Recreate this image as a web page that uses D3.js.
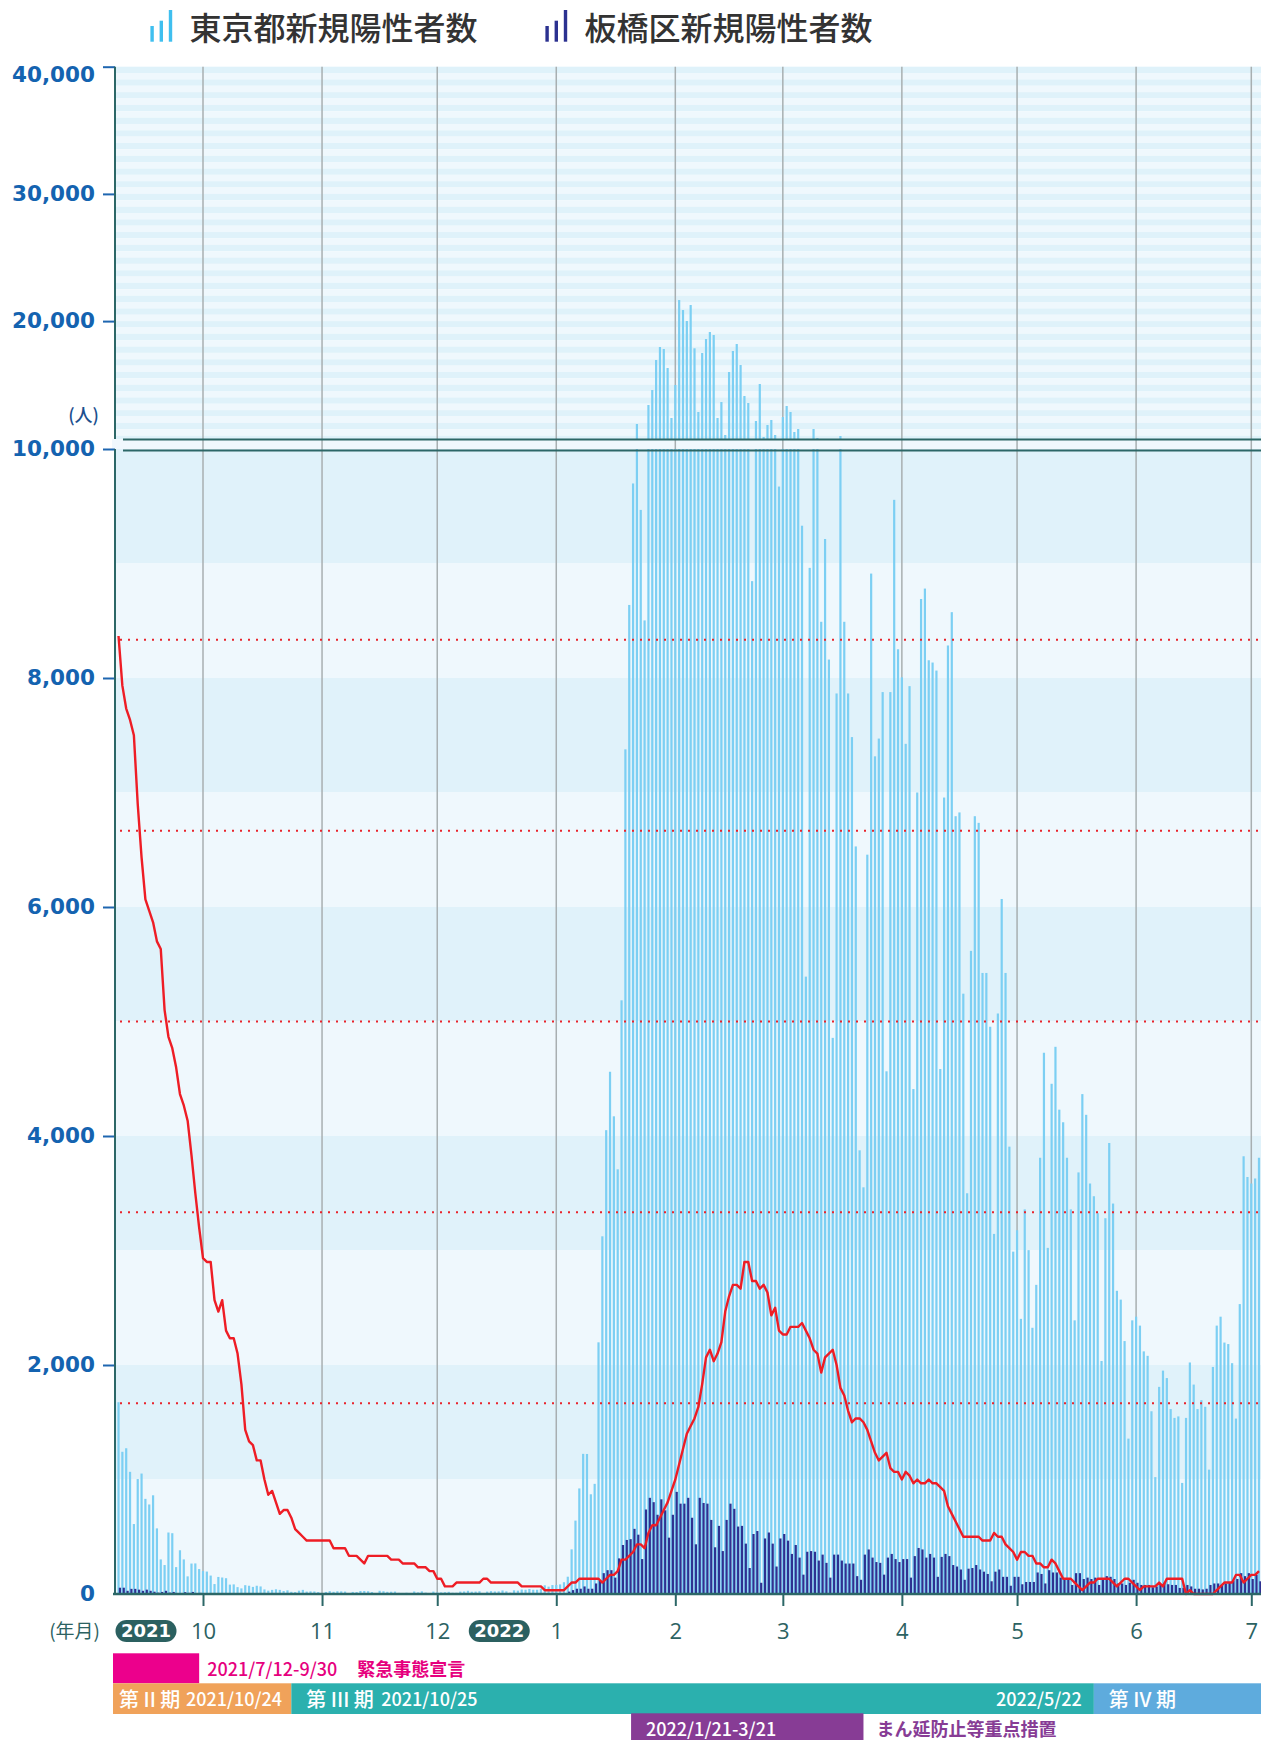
<!DOCTYPE html>
<html lang="ja">
<head>
<meta charset="utf-8">
<script src="https://cdn.jsdelivr.net/npm/d3@7"></script>
<style>
  body { margin: 0; background: #fff; }
  svg { display: block; }
</style>
</head>
<body>
<div class="chart"></div>
<script>
// daily values, first day 2021-09-09
let startDay = "2021-09-09"

// 東京都新規陽性者数
let tokyoCases = [
  1675, 1242, 1273, 1067, 611, 1004, 1052, 831, 782, 862, 573, 302, 253, 537, 531, 235, 382, 302, 154, 266, 267, 218,
  200, 196, 161, 87, 149, 144, 138, 82, 84, 60, 49, 77, 72, 62, 72, 66, 40, 29, 36, 41, 36, 26, 32, 19, 17, 29, 36, 21, 23, 22, 17,
  9, 18, 25, 19, 24, 23, 21, 6, 18, 17, 26, 26, 24, 17, 8, 28, 24, 19, 20, 21, 10, 9, 11, 8, 22, 14, 23, 12, 7, 21,
  14, 14, 16, 19, 11, 11, 21, 22, 28, 20, 21, 24, 7, 21, 25, 22, 23, 31, 23, 12, 32, 29, 39, 37, 44, 37, 37, 46, 76, 64, 78,
  79, 84, 103, 151, 390, 641, 922, 1224, 1223, 871, 962, 2198, 3124, 4051, 4561, 4172, 3709, 5185, 7377, 8638, 9699, 11910, 9468, 8503, 13403, 14582, 16940, 17962, 17805, 16312, 12382,
  14975, 21656, 20870, 20006, 21264, 17861, 12854, 17491, 18591, 19141, 18906, 12382, 13639, 11045, 15997, 17648, 18198, 16547, 14111, 13561, 8846, 12146, 15054, 10888, 11831, 12225, 11045, 9672,
  12460, 13325, 12854, 11281, 11517, 9330, 5392, 8962, 11517, 10810, 8491, 9214, 8161, 4857, 7865, 10967, 8491, 7865, 7484, 6529, 3875, 3552, 6457, 8912, 7316, 7471, 7877, 4565, 7877, 9556, 8251,
  8006, 7425, 7929, 4410, 7000, 8690, 8781, 8155, 8135, 8065, 4585, 6956, 8284, 8575, 6793, 6826, 5243, 3500, 5617, 6793, 6735, 5424, 5424, 4954, 3145, 5070, 6070, 5424, 3907, 2990,
  3177, 2403, 3359, 3003, 2325, 2700, 3810, 4727, 3023, 4456, 4779, 4230, 4120, 3810, 3359, 2390, 3682, 4366, 4185, 3585, 3474, 3326, 2035, 3282, 3939, 3410, 2648, 2571, 2209, 1357, 2390,
  2422, 2344, 2119, 2080, 1596, 1021, 1809, 1951, 1886, 1615, 1538, 1551, 970, 1538, 2022, 1829, 1615, 1693, 1635, 1086, 1983, 2344, 2422, 2196, 2183, 2016, 1532, 2532, 3823, 3642,
  3585, 3629, 3810
]

// 板橋区新規陽性者数
let itabashiCases = [
  55, 55, 28, 45, 45, 38, 28, 38, 28, 20, 12, 18, 28, 12, 18, 8, 8, 16, 10, 18, 8, 10,
  8, 7, 6, 3, 5, 5, 5, 3, 3, 2, 2, 3, 3, 2, 3, 2, 1, 1, 1, 2, 1, 1, 1, 0, 1, 1, 1, 1, 1, 1, 0,
  0, 1, 1, 1, 1, 1, 1, 0, 1, 1, 1, 1, 1, 1, 0, 1, 1, 1, 1, 1, 0, 0, 0, 0, 1, 0, 1, 0, 0, 1,
  0, 1, 1, 1, 0, 0, 1, 1, 1, 1, 1, 1, 0, 1, 1, 1, 1, 1, 1, 0, 1, 1, 2, 1, 2, 1, 1, 2, 3, 3, 3,
  3, 4, 6, 21, 34, 46, 46, 66, 46, 46, 92, 118, 182, 208, 208, 143, 311, 428, 472, 479, 569, 518, 305, 738, 840, 802, 692, 827, 731, 492, 692,
  892, 789, 789, 840, 666, 434, 840, 795, 789, 647, 408, 595, 375, 647, 789, 744, 589, 595, 440, 227, 524, 550, 98, 485, 537, 440, 240, 485,
  524, 466, 350, 428, 318, 169, 369, 375, 369, 292, 344, 272, 143, 344, 344, 292, 266, 266, 266, 156, 124, 344, 389, 318, 279, 272, 169, 318, 350, 305, 279,
  305, 305, 143, 331, 402, 389, 318, 350, 318, 150, 324, 350, 331, 253, 240, 214, 124, 221, 227, 253, 214, 195, 175, 111, 195, 214, 150, 150, 72, 150,
  150, 85, 105, 105, 105, 188, 175, 92, 208, 188, 188, 143, 124, 124, 79, 182, 182, 131, 143, 131, 143, 79, 131, 156, 150, 131, 92, 92, 79, 98, 124,
  98, 79, 79, 79, 59, 66, 79, 98, 85, 79, 79, 53, 53, 79, 66, 46, 46, 40, 46, 79, 92, 92, 79, 92, 98, 118, 131, 182, 156, 182,
  131, 169, 111
]

// red line (%), secondary scale 0-60
let severeRate = [
  50.2, 47.6, 46.4, 45.8, 45.0, 41.4, 38.6, 36.4, 35.8, 35.2, 34.2, 33.8, 30.6, 29.2, 28.6, 27.6, 26.2, 25.6, 24.8, 23.0,
  21.0, 19.2, 17.6, 17.4, 17.4, 15.4, 14.8, 15.4, 13.8, 13.4, 13.4, 12.6, 11.0, 8.6, 8.0, 7.8, 7.0, 7.0, 6.0, 5.2,
  5.4, 4.8, 4.2, 4.4, 4.4, 4.0, 3.4, 3.2, 3.0, 2.8, 2.8, 2.8, 2.8, 2.8, 2.8, 2.8, 2.4, 2.4, 2.4, 2.4,
  2.0, 2.0, 2.0, 1.8, 1.6, 2.0, 2.0, 2.0, 2.0, 2.0, 2.0, 1.8, 1.8, 1.8, 1.6, 1.6, 1.6, 1.6, 1.4, 1.4,
  1.4, 1.2, 1.2, 0.8, 0.8, 0.4, 0.4, 0.4, 0.6, 0.6, 0.6, 0.6, 0.6, 0.6, 0.6, 0.8, 0.8, 0.6, 0.6, 0.6,
  0.6, 0.6, 0.6, 0.6, 0.6, 0.4, 0.4, 0.4, 0.4, 0.4, 0.4, 0.2, 0.2, 0.2, 0.2, 0.2, 0.2, 0.4, 0.6, 0.6,
  0.8, 0.8, 0.8, 0.8, 0.8, 0.8, 0.6, 0.8, 1.0, 1.0, 1.2, 1.8, 1.8, 2.0, 2.2, 2.6, 2.6, 2.4, 3.2, 3.6,
  3.6, 4.0, 4.4, 4.8, 5.4, 6.0, 6.8, 7.6, 8.4, 8.8, 9.2, 9.8, 11.0, 12.4, 12.8, 12.2, 12.6, 13.2, 14.8, 15.6,
  16.2, 16.2, 16.0, 17.4, 17.4, 16.4, 16.4, 16.0, 16.2, 15.8, 14.6, 15.0, 13.8, 13.6, 13.6, 14.0, 14.0, 14.0, 14.2, 13.8,
  13.4, 12.8, 12.6, 11.6, 12.4, 12.6, 12.8, 12.0, 10.8, 10.4, 9.6, 9.0, 9.2, 9.2, 9.0, 8.6, 8.0, 7.4, 7.0, 7.2,
  7.4, 6.6, 6.4, 6.4, 6.0, 6.4, 6.2, 5.8, 6.0, 5.8, 5.8, 6.0, 5.8, 5.8, 5.6, 5.4, 4.6, 4.2, 3.8, 3.4,
  3.0, 3.0, 3.0, 3.0, 3.0, 2.8, 2.8, 2.8, 3.2, 3.0, 3.0, 2.6, 2.4, 2.2, 1.8, 2.2, 2.2, 2.0, 2.0, 1.6,
  1.6, 1.4, 1.4, 1.8, 1.6, 1.2, 0.8, 0.8, 0.8, 0.6, 0.4, 0.2, 0.4, 0.6, 0.6, 0.8, 0.8, 0.8, 0.8, 0.6,
  0.4, 0.6, 0.8, 0.8, 0.6, 0.4, 0.2, 0.4, 0.4, 0.4, 0.4, 0.6, 0.4, 0.8, 0.8, 0.8, 0.8, 0.8, 0.0, 0.2,
  0.0, 0.0, 0.0, 0.0, 0.0, 0.0, 0.2, 0.4, 0.6, 0.6, 0.6, 1.0, 1.0, 0.6, 0.8, 1.0, 1.0, 1.2
]

let upperTicks = [20000, 30000, 40000]
let lowerTicks = [0, 2000, 4000, 6000, 8000, 10000]
let rateLines = [10, 20, 30, 40, 50]
let monthTicks = ["2021-10-01", "2021-11-01", "2021-12-01", "2022-01-01", "2022-02-01",
                  "2022-03-01", "2022-04-01", "2022-05-01", "2022-06-01", "2022-07-01"]
let yearTags = [{label: "2021", month: "2021-10-01"}, {label: "2022", month: "2022-01-01"}]

let W = 1261, H = 1740
let plotLeft = 115, plotRight = 1261
let upperBottom = 439
let base = 1594
let teal = "#2c6767"
let blueText = "#1463b0"

let parse = d3.utcParse("%Y-%m-%d")
let days = tokyoCases.map((d, i) => d3.utcDay.offset(parse(startDay), i))

let svg = d3.select(".chart")
    .append("svg")
    .attr("width", W)
    .attr("height", H)

// Scales
let x = d3.scaleUtc()
    .domain([parse("2021-10-01"), parse("2022-07-01")])
    .range([203, 1251.3])
let yLower = d3.scaleLinear().domain([0, 10000]).range([base, 449])
let yUpper = d3.scaleLinear().domain([10000, 40000]).range([448.3, 66.7])
let yRate = d3.scaleLinear().domain([0, 60]).range([base, 449])

// Backgrounds
let bg = svg.append("g")
bg.selectAll(".stripe")
    .data(d3.range(60))
    .join("rect")
    .attr("x", plotLeft)
    .attr("width", plotRight - plotLeft)
    .attr("y", k => yUpper(40000 - 500 * k))
    .attr("height", k => Math.max(0, Math.min(upperBottom, yUpper(40000 - 500 * (k + 1))) - yUpper(40000 - 500 * k)))
    .attr("fill", k => k % 2 ? "#eff8fd" : "#dff2fa")

bg.append("rect")
    .attr("x", plotLeft - 3)
    .attr("y", upperBottom)
    .attr("width", plotRight - plotLeft + 3)
    .attr("height", yLower(10000) - upperBottom)
    .attr("fill", "#f0f8fd")

bg.selectAll(".band")
    .data(d3.range(10))
    .join("rect")
    .attr("x", plotLeft)
    .attr("width", plotRight - plotLeft)
    .attr("y", k => yLower(10000 - 1000 * k))
    .attr("height", k => yLower(10000 - 1000 * (k + 1)) - yLower(10000 - 1000 * k))
    .attr("fill", k => k % 2 ? "#eff8fd" : "#e0f2fa")

// Month grid
svg.append("g")
    .selectAll("line")
    .data(monthTicks.map(parse))
    .join("line")
    .attr("x1", d => x(d))
    .attr("x2", d => x(d))
    .attr("y1", yUpper(40000))
    .attr("y2", base)
    .attr("stroke", "#a8afb1")
    .attr("stroke-width", 1.5)

// Bars
svg.append("clipPath")
    .attr("id", "plot-clip")
    .append("rect")
    .attr("x", plotLeft + 1)
    .attr("y", 0)
    .attr("width", plotRight - plotLeft)
    .attr("height", base)

let bars = svg.append("g").attr("clip-path", "url(#plot-clip)")

bars.selectAll(".tokyo-low")
    .data(tokyoCases)
    .join("rect")
    .attr("x", (d, i) => x(days[i]) - 1.1)
    .attr("width", 2.2)
    .attr("y", d => yLower(Math.min(d, 10000)))
    .attr("height", d => base - yLower(Math.min(d, 10000)))
    .attr("fill", "#7ccff3")

bars.selectAll(".tokyo-high")
    .data(tokyoCases.map((d, i) => ({v: d, day: days[i]})).filter(d => yUpper(d.v) < upperBottom))
    .join("rect")
    .attr("x", d => x(d.day) - 1.1)
    .attr("width", 2.2)
    .attr("y", d => yUpper(d.v))
    .attr("height", d => upperBottom - yUpper(d.v))
    .attr("fill", "#7ccff3")

bars.selectAll(".itabashi")
    .data(itabashiCases)
    .join("rect")
    .attr("x", (d, i) => x(days[i]) + 0.3)
    .attr("width", 2.2)
    .attr("y", d => yLower(d))
    .attr("height", d => base - yLower(d))
    .attr("fill", "#2e3191")

// Dotted reference lines
svg.append("g")
    .selectAll("line")
    .data(rateLines)
    .join("line")
    .attr("x1", plotLeft + 5)
    .attr("x2", plotRight)
    .attr("y1", d => yRate(d))
    .attr("y2", d => yRate(d))
    .attr("stroke", "#e8242c")
    .attr("stroke-width", 2)
    .attr("stroke-dasharray", "2 6")

// Red line
let line = d3.line()
    .x((d, i) => x(days[i]))
    .y(d => yRate(d))

svg.append("path")
    .datum(severeRate)
    .attr("d", line)
    .attr("fill", "none")
    .attr("stroke", "#ee1d25")
    .attr("stroke-width", 2.4)
    .attr("stroke-linejoin", "round")

// Axis break lines
svg.append("g")
    .selectAll("line")
    .data([upperBottom + 0.5, yLower(10000) + 1.5])
    .join("line")
    .attr("x1", 123)
    .attr("x2", plotRight)
    .attr("y1", d => d)
    .attr("y2", d => d)
    .attr("stroke", teal)
    .attr("stroke-width", 2)

// Left axis
let axisUpper = d3.axisLeft(yUpper)
    .tickValues(upperTicks)
    .tickFormat(d3.format(","))
    .tickSize(12)
    .tickPadding(8)
let axisLower = d3.axisLeft(yLower)
    .tickValues(lowerTicks)
    .tickFormat(d3.format(","))
    .tickSize(12)
    .tickPadding(8)

function styleAxis(g) {
    g.select(".domain").remove()
    g.selectAll(".tick line").attr("stroke", "#1f66b0").attr("stroke-width", 2)
    g.selectAll(".tick text")
        .attr("fill", blueText)
        .attr("font-family", "DejaVu Sans")
        .attr("font-weight", "bold")
        .attr("font-size", 21.5)
}

svg.append("g")
    .attr("transform", `translate(${plotLeft}, 0)`)
    .call(axisUpper)
    .call(styleAxis)
    .call(g => g.selectAll(".tick text").filter(d => d === 40000).attr("dy", "0.7em"))

svg.append("g")
    .attr("transform", `translate(${plotLeft}, 0)`)
    .call(axisLower)
    .call(styleAxis)
    .call(g => g.selectAll(".tick line").filter(d => d === 0).remove())

svg.append("line")
    .attr("x1", plotLeft).attr("x2", plotLeft)
    .attr("y1", yUpper(40000)).attr("y2", upperBottom)
    .attr("stroke", teal).attr("stroke-width", 2)
svg.append("line")
    .attr("x1", plotLeft).attr("x2", plotLeft)
    .attr("y1", yLower(10000)).attr("y2", base)
    .attr("stroke", teal).attr("stroke-width", 2)

svg.append("text")
    .attr("x", 99)
    .attr("y", 422)
    .attr("text-anchor", "end")
    .attr("font-family", "Noto Sans CJK JP")
    .attr("font-weight", 500)
    .attr("font-size", 18)
    .attr("fill", "#1b4f8e")
    .text("(人)")

// Bottom axis
let axisX = d3.axisBottom(x)
    .tickValues(monthTicks.map(parse))
    .tickSize(12)
    .tickFormat(d => d.getUTCMonth() + 1)

svg.append("g")
    .attr("transform", `translate(0, ${base})`)
    .call(axisX)
    .call(g => g.select(".domain").remove())
    .call(g => g.selectAll(".tick line").attr("stroke", teal).attr("stroke-width", 2))
    .call(g => g.selectAll(".tick text")
        .attr("y", 37)
        .attr("dy", "0.36em")
        .attr("fill", "#2c6262")
        .attr("font-family", "Open Sans")
        .attr("font-weight", 500)
        .attr("font-size", 22))

svg.append("line")
    .attr("x1", plotLeft - 2).attr("x2", plotRight)
    .attr("y1", base).attr("y2", base)
    .attr("stroke", teal).attr("stroke-width", 2.5)

svg.append("text")
    .attr("x", 100)
    .attr("y", 1631)
    .attr("dy", "0.35em")
    .attr("text-anchor", "end")
    .attr("font-family", "Noto Sans CJK JP")
    .attr("font-size", 19)
    .attr("fill", "#2c6262")
    .text("(年月)")

let tags = svg.append("g")
    .selectAll("g")
    .data(yearTags)
    .join("g")
    .attr("transform", d => `translate(${x(parse(d.month)) - 57}, 1631)`)
tags.append("rect")
    .attr("x", -30.5).attr("y", -11)
    .attr("width", 61).attr("height", 22)
    .attr("rx", 11)
    .attr("fill", "#2b6060")
tags.append("text")
    .attr("text-anchor", "middle")
    .attr("dy", "0.36em")
    .attr("fill", "#fff")
    .attr("font-family", "DejaVu Sans")
    .attr("font-weight", "bold")
    .attr("font-size", 18)
    .text(d => d.label)

// Period bars
let periods = [
    {row: 0, from: null, to: "2021-09-30", color: "#ec008c"},
    {row: 1, from: null, to: "2021-10-24", color: "#f0a25a"},
    {row: 1, from: "2021-10-24", to: "2022-05-21", color: "#2bb0ae"},
    {row: 1, from: "2022-05-21", to: null, color: "#5eabdd"},
    {row: 2, from: "2022-01-21", to: "2022-03-22", color: "#873c95", shift: -2}
]
let rowTop = [1653.3, 1683.3, 1713.3]
let rowHeight = [30, 30.7, 30]
let edge = (d, fallback) => d ? x(parse(d)) : fallback

svg.append("g")
    .selectAll("rect")
    .data(periods)
    .join("rect")
    .attr("x", d => edge(d.from, plotLeft - 2) + (d.shift || 0))
    .attr("width", d => edge(d.to, W) - edge(d.from, plotLeft - 2) - (d.shift || 0))
    .attr("y", d => rowTop[d.row])
    .attr("height", d => rowHeight[d.row])
    .attr("fill", d => d.color)

let labels = [
    {x: x(parse("2021-09-30")) + 8, row: 0, text: "2021/7/12-9/30", color: "#e6007e"},
    {x: x(parse("2021-09-30")) + 158, row: 0, text: "緊急事態宣言", color: "#e6007e", bold: true},
    {x: plotLeft + 4, row: 1, text: "第 II 期", color: "#fff", size: 20},
    {x: plotLeft + 71, row: 1, text: "2021/10/24", color: "#fff"},
    {x: x(parse("2021-10-24")) + 15, row: 1, text: "第 III 期", color: "#fff", size: 20},
    {x: x(parse("2021-10-24")) + 90, row: 1, text: "2021/10/25", color: "#fff"},
    {x: x(parse("2022-05-21")) - 12, row: 1, text: "2022/5/22", color: "#fff", anchor: "end"},
    {x: x(parse("2022-05-21")) + 15, row: 1, text: "第 IV 期", color: "#fff", size: 20},
    {x: x(parse("2022-01-21")) + 13, row: 2, text: "2022/1/21-3/21", color: "#fff"},
    {x: x(parse("2022-03-22")) + 13, row: 2, text: "まん延防止等重点措置", color: "#873c95", bold: true}
]

svg.append("g")
    .selectAll("text")
    .data(labels)
    .join("text")
    .attr("x", d => d.x)
    .attr("y", d => rowTop[d.row] + rowHeight[d.row] / 2 + 1)
    .attr("dy", "0.35em")
    .attr("text-anchor", d => d.anchor || "start")
    .attr("font-family", "Noto Sans CJK JP")
    .attr("font-weight", d => d.bold ? 700 : 500)
    .attr("font-size", d => d.size || 18)
    .attr("fill", d => d.color)
    .text(d => d.text)

// Legend
let legend = [
    {x: 150.4, color: "#3fbfef", label: "東京都新規陽性者数"},
    {x: 545.4, color: "#2b3190", label: "板橋区新規陽性者数"}
]
let iconHeights = [15.7, 21, 31.7]

let items = svg.append("g")
    .selectAll("g")
    .data(legend)
    .join("g")
    .attr("transform", d => `translate(${d.x}, 0)`)

items.selectAll("rect")
    .data(d => iconHeights.map((h, i) => ({h: h, i: i, color: d.color})))
    .join("rect")
    .attr("x", d => d.i * 9.2)
    .attr("y", d => 41.7 - d.h)
    .attr("width", 3.4)
    .attr("height", d => d.h)
    .attr("fill", d => d.color)

items.append("text")
    .attr("x", 39)
    .attr("y", 39.5)
    .attr("font-family", "Noto Sans CJK JP")
    .attr("font-weight", 500)
    .attr("font-size", 32)
    .attr("fill", "#333")
    .text(d => d.label)
</script>
</body>
</html>
